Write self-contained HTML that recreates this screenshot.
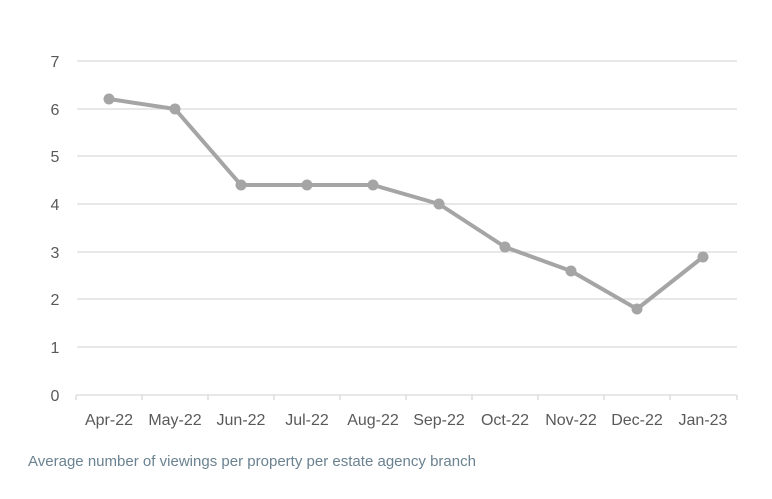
<!DOCTYPE html>
<html><head><meta charset="utf-8"><style>
html,body{margin:0;padding:0;background:#fff;width:772px;height:499px;overflow:hidden}
svg text{font-family:"Liberation Sans",sans-serif}
</style></head><body>
<svg width="772" height="499" viewBox="0 0 772 499" xmlns="http://www.w3.org/2000/svg">
<g stroke="#d9d9d9" stroke-width="1.3">
<line x1="77" y1="61" x2="737" y2="61"/>
<line x1="77" y1="109" x2="737" y2="109"/>
<line x1="77" y1="156" x2="737" y2="156"/>
<line x1="77" y1="204" x2="737" y2="204"/>
<line x1="77" y1="252" x2="737" y2="252"/>
<line x1="77" y1="299" x2="737" y2="299"/>
<line x1="77" y1="347" x2="737" y2="347"/>
<line x1="76" y1="395" x2="737" y2="395"/>
<line x1="76" y1="395" x2="76" y2="400"/>
<line x1="142" y1="395" x2="142" y2="400"/>
<line x1="208" y1="395" x2="208" y2="400"/>
<line x1="274" y1="395" x2="274" y2="400"/>
<line x1="340" y1="395" x2="340" y2="400"/>
<line x1="406" y1="395" x2="406" y2="400"/>
<line x1="472" y1="395" x2="472" y2="400"/>
<line x1="538" y1="395" x2="538" y2="400"/>
<line x1="604" y1="395" x2="604" y2="400"/>
<line x1="670" y1="395" x2="670" y2="400"/>
<line x1="737" y1="395" x2="737" y2="400"/>
</g>
<g font-size="16" fill="#595959" text-anchor="middle">
<text x="55" y="67">7</text><text x="55" y="115">6</text><text x="55" y="162">5</text>
<text x="55" y="210">4</text><text x="55" y="258">3</text><text x="55" y="305">2</text>
<text x="55" y="353">1</text><text x="55" y="401">0</text>
<text x="109" y="425">Apr-22</text><text x="175" y="425">May-22</text><text x="241" y="425">Jun-22</text>
<text x="307" y="425">Jul-22</text><text x="373" y="425">Aug-22</text><text x="439" y="425">Sep-22</text>
<text x="505" y="425">Oct-22</text><text x="571" y="425">Nov-22</text><text x="637" y="425">Dec-22</text>
<text x="703" y="425">Jan-23</text>
</g>
<polyline fill="none" stroke="#a5a5a5" stroke-width="4" stroke-linejoin="round" points="109,99 175,109 241,185 307,185 373,185 439,204 505,247 571,271 637,309 703,257"/>
<g fill="#a5a5a5">
<circle cx="109" cy="99" r="5.5"/><circle cx="175" cy="109" r="5.5"/><circle cx="241" cy="185" r="5.5"/>
<circle cx="307" cy="185" r="5.5"/><circle cx="373" cy="185" r="5.5"/><circle cx="439" cy="204" r="5.5"/>
<circle cx="505" cy="247" r="5.5"/><circle cx="571" cy="271" r="5.5"/><circle cx="637" cy="309" r="5.5"/>
<circle cx="703" cy="257" r="5.5"/>
</g>
<text x="28" y="466" font-size="15" fill="#6a8291" textLength="448" lengthAdjust="spacingAndGlyphs">Average number of viewings per property per estate agency branch</text>
</svg>
</body></html>
